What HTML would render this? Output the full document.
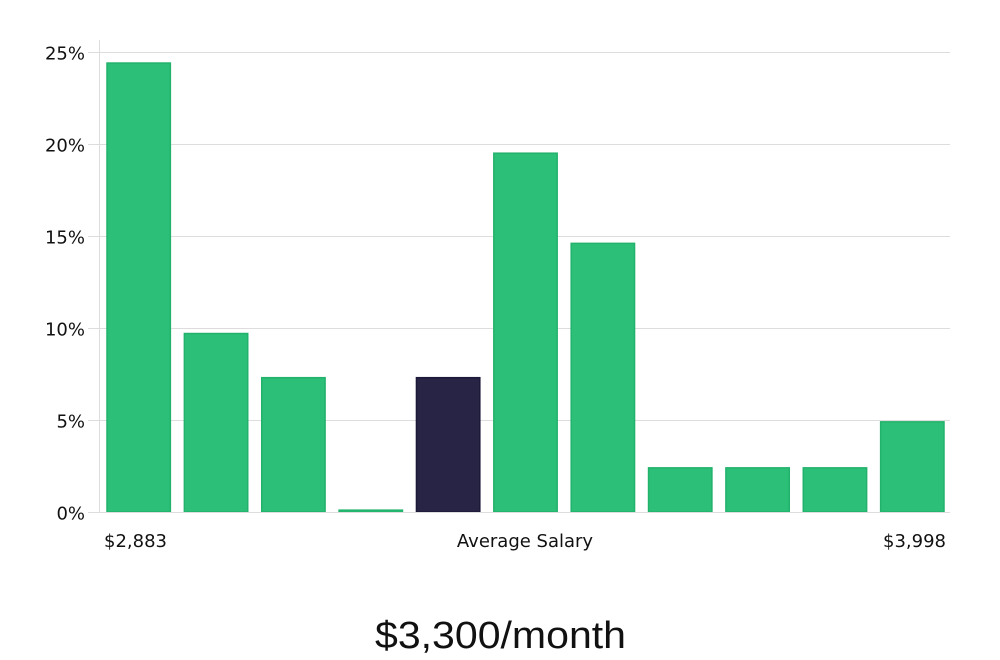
<!DOCTYPE html>
<html><head><meta charset="utf-8"><style>
html,body{margin:0;padding:0;background:#fff;}
svg{display:block;}
text{font-family:"DejaVu Sans","Liberation Sans",sans-serif;fill:#111;}
</style></head><body>
<svg id="chart" width="1000" height="660" viewBox="0 0 1000 660" xmlns="http://www.w3.org/2000/svg">
<g id="grid"></g>
<g id="yaxis"></g>
<g id="bars"></g>
<line x1="99.5" y1="40" x2="99.5" y2="512" stroke="#ddd" stroke-width="1"/>
<line x1="88" y1="512.5" x2="950" y2="512.5" stroke="#ddd" stroke-width="1"/>
<text x="104" y="547" font-size="18">$2,883</text>
<text x="525" y="547" font-size="18" text-anchor="middle">Average Salary</text>
<text x="946" y="547" font-size="18" text-anchor="end">$3,998</text>
<text x="375" y="648" font-size="38" textLength="251" lengthAdjust="spacingAndGlyphs" style="font-family:'Liberation Sans',sans-serif">$3,300/month</text>
</svg>
<script>
const categories = ["b1","b2","b3","b4","b5","b6","b7","b8","b9","b10","b11"];
const values = [24.4, 9.7, 7.3, 0.1, 7.3, 19.5, 14.6, 2.4, 2.4, 2.4, 4.9];
const highlightIndex = 4;
const yTicks = [0, 5, 10, 15, 20, 25];
const yTickLabels = ["0%","5%","10%","15%","20%","25%"];

const NS = "http://www.w3.org/2000/svg";
const plotL = 99, plotR = 950, y0 = 512, yTop = 52;
const yScale = v => y0 - (v / 25) * (y0 - yTop);
const band = (plotR - plotL) / categories.length;
const xScale = i => plotL + i * band + 8;
const barW = band - 14;

const grid = document.getElementById("grid");
const yaxis = document.getElementById("yaxis");
yTicks.forEach((t, i) => {
  const y = Math.round(yScale(t)) + 0.5;
  const l = document.createElementNS(NS, "line");
  
  
  l.setAttribute("x1", 88); l.setAttribute("x2", plotR);
  l.setAttribute("y1", y); l.setAttribute("y2", y);
  l.setAttribute("stroke", "#ddd");
  grid.appendChild(l);
  const tx = document.createElementNS(NS, "text");
  
  
  tx.setAttribute("x", 85); tx.setAttribute("y", y + 7);
  tx.setAttribute("text-anchor", "end");
  tx.setAttribute("font-size", "18");
  tx.textContent = yTickLabels[i];
  yaxis.appendChild(tx);
});

const bars = document.getElementById("bars");
values.forEach((v, i) => {
  const r = document.createElementNS(NS, "rect");
  
  
  const y = yScale(v);
  r.setAttribute("x", xScale(i));
  r.setAttribute("y", y);
  r.setAttribute("width", barW);
  r.setAttribute("height", Math.max(1, y0 - y));
  const hl = i === highlightIndex;
  r.setAttribute("fill", hl ? "#282446" : "#2bbf78");
  r.setAttribute("stroke", hl ? "#1c1838" : "#22b26c");
  r.setAttribute("stroke-width", "1.5");
  bars.appendChild(r);
});
</script>
</body></html>
